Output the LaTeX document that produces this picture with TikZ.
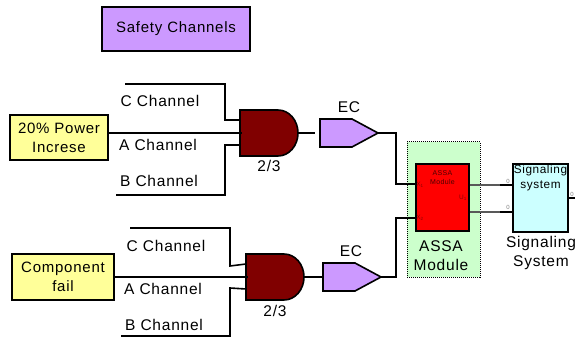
\documentclass[tikz,border=0pt]{standalone}
\usepackage{fontspec}
\setmainfont[LetterSpace=5]{Liberation Sans}
\definecolor{gatered}{HTML}{800000}
\definecolor{ecpurple}{HTML}{CC99FF}
\definecolor{boxyellow}{HTML}{FFFF99}
\definecolor{boxgreen}{HTML}{CCFFCC}
\definecolor{boxcyan}{HTML}{CCFFFF}
\tikzset{
    block/.style={draw, line width=1.6pt, inner sep=0pt, align=center},
    label/.style={font=\fontsize{15.5}{19}\selectfont, inner sep=0pt, align=center},
    boxtext/.style={font=\fontsize{15}{19}\selectfont},
    wire/.style={line width=1.6pt},
    pinlabel/.style={font=\fontsize{6.5}{7}\selectfont, inner sep=0pt, black!45!red},
    zerolabel/.style={font=\fontsize{6}{7}\selectfont, inner sep=0pt, gray},
    andgate/.pic={
        \draw[fill=gatered, line width=1.6pt] (-29,-23) -- (9,-23) arc (-90:90:20 and 23) -- (-29,23) -- cycle;
        \coordinate (-out) at (29,0);
        \coordinate (-c) at (-29,-13);
        \coordinate (-a) at (-27,0);
        \coordinate (-b) at (-29,12);
    },
    ecblock/.pic={
        \draw[fill=ecpurple, line width=1.6pt] (-29,-14) -- (3,-14) -- (29,0) -- (3,14) -- (-29,14) -- cycle;
        \coordinate (-in) at (-29,0);
        \coordinate (-out) at (29,0);
    }
}
\begin{document}
\begin{tikzpicture}[x=1pt, y=-1pt]
    \useasboundingbox (0,0) rectangle (575,339);

    % Title
    \node[block, fill=ecpurple, minimum width=148pt, minimum height=44pt, boxtext] (title) at (176,29) {Safety Channels};

    % Upper group
    \node[block, fill=boxyellow, minimum width=98pt, minimum height=45pt, boxtext] (power) at (59,137.5) {20\% Power\\Increse};
    \pic (gateup) at (269,133) {andgate};
    \pic (ecup) at (349,133) {ecblock};
    \coordinate (cup) at (125,84);
    \coordinate (bup) at (116,195);
    \draw[wire] (cup) -| (225,120) -- (gateup-c);
    \draw[wire] (power.east |- gateup-a) -- (gateup-a);
    \draw[wire] (bup) -| (225,145) -- (gateup-b);
    \draw[wire] (gateup-out) -- (315,133);
    \node[label] (cupname) at (160,101) {C Channel};
    \node[label] (aupname) at (158,145) {A Channel};
    \node[label] (bupname) at (159,181) {B Channel};
    \node[label] (voteup) at (269,166) {2/3};
    \node[label] (ecupname) at (349,107) {EC};

    % Lower group
    \node[block, fill=boxyellow, minimum width=102pt, minimum height=46pt, boxtext] (comp) at (63,277) {Component\\fail};
    \pic (gatedown) at (275,277) {andgate};
    \pic (ecdown) at (352,277) {ecblock};
    \coordinate (cdown) at (130,228);
    \coordinate (bdown) at (121,336);
    \draw[wire] (cdown) -| (230,266) -- (gatedown-c);
    \draw[wire] (comp.east) -- (gatedown-a);
    \draw[wire] (bdown) -| (230,288) -- (gatedown-b);
    \draw[wire] (gatedown-out) -- (322,277);
    \node[label] (cdownname) at (166,246) {C Channel};
    \node[label] (adownname) at (163,289) {A Channel};
    \node[label] (bdownname) at (164,325) {B Channel};
    \node[label] (votedown) at (275,311) {2/3};
    \node[label] (ecdownname) at (351,251) {EC};

    % Module and output
    \node[draw, densely dotted, line width=1pt, fill=boxgreen, minimum width=73pt, minimum height=135pt, inner sep=0pt] (panel) at (443.5,209.5) {};
    \node[block, fill=red, minimum width=53pt, minimum height=67pt] (assa) at (442.5,197.5) {};
    \node[block, fill=boxcyan, minimum width=55pt, minimum height=68pt] (signal) at (540.5,198) {};
    \coordinate (xone) at (assa.west |- 0,184);
    \coordinate (xtwo) at (assa.west |- 0,218);
    \coordinate (uone) at (assa.east |- 0,185);
    \coordinate (utwo) at (assa.east |- 0,212);
    \coordinate (sout) at (575,198);
    \draw[wire] (ecup-out) -- (396,133) |- (xone);
    \draw[wire] (ecdown-out) -- (396,277) |- (xtwo);
    \draw[wire, gray!70!black] (uone) -- (signal.west |- uone);
    \draw[wire, gray!70!black] (utwo) -- (signal.west |- utwo);
    \draw[line width=2pt] (500,185) -- (signal.west |- uone);
    \draw[line width=2pt] (500,212) -- (signal.west |- utwo);
    \draw[line width=2pt] (signal.east |- sout) -- (sout);

    % Small texts
    \node[font=\fontsize{7}{9}\selectfont, align=center, inner sep=0pt, black!70!red] (assatext) at (442.5,177.5) {ASSA\\Module};
    \node[pinlabel] (xonename) at (420,185) {X\textsubscript{1}};
    \node[pinlabel] (xtwoname) at (420,218) {X\textsubscript{2}};
    \node[pinlabel] (uonename) at (463,198) {U\textsubscript{1}};
    \node[zerolabel] (zeroone) at (508,181) {0};
    \node[zerolabel] (zerotwo) at (508,207) {0};
    \node[zerolabel] (zerothree) at (572,194) {0};
    \node[label, font=\fontsize{11.8}{15}\selectfont] (signaltext) at (540.5,177.5) {Signaling\\system};
    \node[label] (assaname) at (441,256) {ASSA\\Module};
    \node[label] (signalname) at (541,252.5) {Signaling\\System};
\end{tikzpicture}
\end{document}
